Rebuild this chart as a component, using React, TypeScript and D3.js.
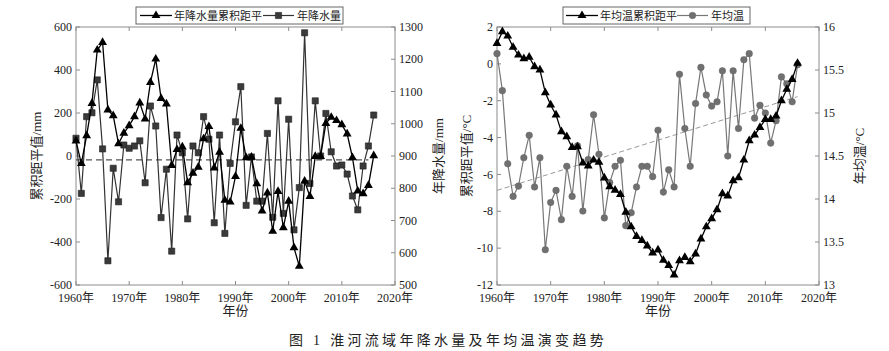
import React from "react";
import * as d3 from "d3";

// years 1960-2016
const years = [
  1960, 1961, 1962, 1963, 1964, 1965, 1966, 1967, 1968, 1969,
  1970, 1971, 1972, 1973, 1974, 1975, 1976, 1977, 1978, 1979,
  1980, 1981, 1982, 1983, 1984, 1985, 1986, 1987, 1988, 1989,
  1990, 1991, 1992, 1993, 1994, 1995, 1996, 1997, 1998, 1999,
  2000, 2001, 2002, 2003, 2004, 2005, 2006, 2007, 2008, 2009,
  2010, 2011, 2012, 2013, 2014, 2015, 2016,
];

// annual precipitation (mm)
const precip = [
  955, 784, 1022, 1034, 1136, 922, 575, 862, 758, 934,
  924, 931, 947, 817, 1055, 993, 709, 859, 605, 965,
  910, 705, 931, 910, 1022, 952, 693, 965, 660, 877,
  1006, 1115, 747, 897, 760, 760, 970, 710, 1071, 722,
  1014, 671, 802, 1282, 815, 1071, 900, 1032, 913, 869,
  872, 844, 776, 733, 869, 931, 1027,
];

// cumulative anomaly of precipitation (mm)
const precipCum = [
  70, -35, 95, 245, 493, 528, 214, 188, 57, 106,
  141, 183, 247, 172, 342, 451, 268, 242, -44, 30,
  42, -124, -80, -52, 80, 137, -55, 18, -206, -214,
  -95, 129, -8, -5, -129, -256, -172, -350, -165, -333,
  -210, -426, -513, -117, -188, -2, -2, 152, 180, 165,
  146, 103, -8, -163, -175, -137, 2,
];
const precipMean = 888;
const precipMeanSpan = [1960, 2015];

// annual mean temperature (°C)
const temp = [
  15.69, 15.26, 14.41, 14.03, 14.15, 14.48, 14.74, 14.14, 14.48, 13.41,
  13.96, 14.1, 13.76, 14.38, 14.03, 14.62, 13.86, 14.46, 14.98, 14.52,
  13.78, 14.19, 14.38, 14.45, 13.69, 13.84, 14.14, 14.38, 14.38, 14.26,
  14.8, 14.08, 14.34, 14.14, 15.45, 14.82, 14.38, 15.11, 15.53, 15.21,
  15.08, 15.13, 15.49, 14.5, 15.49, 14.82, 15.62, 15.69, 14.94, 15.09,
  15.0, 14.65, 14.91, 15.42, 15.34, 15.13, 15.56,
];

// cumulative anomaly of temperature (°C)
const tempCum = [
  1.11, 1.75, 1.51, 0.9, 0.48, 0.28, 0.36, -0.15, -0.33, -1.56,
  -2.23, -2.77, -3.68, -3.95, -4.53, -4.5, -5.38, -5.54, -5.22, -5.34,
  -6.19, -6.66, -6.85, -7.08, -8.05, -8.84, -9.36, -9.58, -9.88, -10.26,
  -10.1, -10.66, -10.94, -11.46, -10.68, -10.5, -10.73, -10.31, -9.5, -8.84,
  -8.4, -7.91, -7.04, -7.17, -6.34, -6.18, -5.22, -4.17, -3.86, -3.45,
  -3.01, -3.01, -2.83, -2.0, -1.38, -0.84, 0.03,
];
// linear trend of temperature, end points
const tempTrendYears = [1960, 2016];
const tempTrendValues = [14.1, 15.19];

const xTicks = [1960, 1970, 1980, 1990, 2000, 2010, 2020];
const precipCumTicks = [-600, -400, -200, 0, 200, 400, 600];
const precipTicks = [500, 600, 700, 800, 900, 1000, 1100, 1200, 1300];
const tempCumTicks = [-12, -10, -8, -6, -4, -2, 0, 2];
const tempTicks = [13, 13.5, 14, 14.5, 15, 15.5, 16];

const serif = "'Liberation Serif', 'Times New Roman', 'Noto Sans CJK SC', serif";
const frameColor = "#8c8c8c";
const textColor = "#222";

const triPath = d3.symbol(d3.symbolTriangle, 34)()!;
const sqPath = d3.symbol(d3.symbolSquare, 38)()!;

type Panel = {
  x: d3.ScaleLinear<number, number>;
  yl: d3.ScaleLinear<number, number>;
  yr: d3.ScaleLinear<number, number>;
  lTicks: number[];
  rTicks: number[];
  lLabel: string;
  rLabel: string;
  lLabelX: number;
  rLabelX: number;
};

function Frame({ x, yl, yr, lTicks, rTicks, lLabel, rLabel, lLabelX, rLabelX }: Panel) {
  const [x0, x1] = x.range();
  const [yB, yT] = yl.range();
  const tl = 4;
  return (
    <g fontFamily={serif} fill={textColor}>
      <rect x={x0} y={yT} width={x1 - x0} height={yB - yT} fill="none" stroke={frameColor} strokeWidth={1} />
      {xTicks.map((t) => (
        <g key={"x" + t}>
          <line x1={x(t)} x2={x(t)} y1={yB} y2={yB - tl} stroke={frameColor} />
          <line x1={x(t)} x2={x(t)} y1={yT} y2={yT + tl} stroke={frameColor} />
          <text x={x(t)} y={301.5} fontSize={12} textAnchor="middle">{t}年</text>
        </g>
      ))}
      {lTicks.map((t) => (
        <g key={"l" + t}>
          <line x1={x0} x2={x0 + tl} y1={yl(t)} y2={yl(t)} stroke={frameColor} />
          <text x={x0 - 4} y={yl(t)} dy="0.35em" fontSize={12} textAnchor="end">{t}</text>
        </g>
      ))}
      {rTicks.map((t) => (
        <g key={"r" + t}>
          <line x1={x1} x2={x1 - tl} y1={yr(t)} y2={yr(t)} stroke={frameColor} />
          <text x={x1 + 4} y={yr(t)} dy="0.35em" fontSize={12} textAnchor="start">{t}</text>
        </g>
      ))}
      <text x={(x0 + x1) / 2} y={315} fontSize={13} textAnchor="middle">年份</text>
      <text transform={`translate(${lLabelX},${(yB + yT) / 2}) rotate(-90)`} fontSize={13} textAnchor="middle" dy="0.35em">{lLabel}</text>
      <text transform={`translate(${rLabelX},${(yB + yT) / 2}) rotate(-90)`} fontSize={13} textAnchor="middle" dy="0.35em">{rLabel}</text>
    </g>
  );
}

export default function App() {
  // left panel: precipitation
  const xL = d3.scaleLinear().domain([1960, 2020]).range([76, 395]);
  const yL = d3.scaleLinear().domain([-600, 600]).range([285, 27]);
  const yLr = d3.scaleLinear().domain([500, 1300]).range([285, 27]);
  // right panel: temperature
  const xR = d3.scaleLinear().domain([1960, 2020]).range([497, 819]);
  const yR = d3.scaleLinear().domain([-12, 2]).range([285, 27]);
  const yRr = d3.scaleLinear().domain([13, 16]).range([285, 27]);

  const pCumLine = d3.line<number>().x((_, i) => xL(years[i])).y((d) => yL(d))(precipCum) || "";
  const pLine = d3.line<number>().x((_, i) => xL(years[i])).y((d) => yLr(d))(precip) || "";
  const tCumLine = d3.line<number>().x((_, i) => xR(years[i])).y((d) => yR(d))(tempCum) || "";
  const tLine = d3.line<number>().x((_, i) => xR(years[i])).y((d) => yRr(d))(temp) || "";

  return (
    <div style={{ position: "absolute", left: 0, top: 0 }}>
      <svg width={889} height={351} style={{ display: "block", background: "#fff" }}>
        <Frame x={xL} yl={yL} yr={yLr} lTicks={precipCumTicks} rTicks={precipTicks}
          lLabel="累积距平值/mm" rLabel="年降水量/mm" lLabelX={36} rLabelX={438} />
        <Frame x={xR} yl={yR} yr={yRr} lTicks={tempCumTicks} rTicks={tempTicks}
          lLabel="累积距平值/°C" rLabel="年均温/°C" lLabelX={466} rLabelX={859} />

        {/* precipitation mean */}
        <line x1={xL(precipMeanSpan[0])} x2={xL(precipMeanSpan[1])} y1={yLr(precipMean)} y2={yLr(precipMean)}
          stroke="#555" strokeWidth={1.1} strokeDasharray="6,4" />
        <path d={pLine} fill="none" stroke="#333" strokeWidth={1.2} />
        {precip.map((d, i) => (
          <path key={"p" + i} d={sqPath} transform={`translate(${xL(years[i])},${yLr(d)})`} fill="#3a3a3a" stroke="#222" strokeWidth={0.6} />
        ))}
        <path d={pCumLine} fill="none" stroke="#000" strokeWidth={1.3} />
        {precipCum.map((d, i) => (
          <path key={"pc" + i} d={triPath} transform={`translate(${xL(years[i])},${yL(d)})`} fill="#000" />
        ))}

        {/* temperature trend */}
        <line x1={xR(tempTrendYears[0])} x2={xR(tempTrendYears[1])} y1={yRr(tempTrendValues[0])} y2={yRr(tempTrendValues[1])}
          stroke="#999" strokeWidth={1} strokeDasharray="5,3" />
        <path d={tLine} fill="none" stroke="#777" strokeWidth={1.2} />
        {temp.map((d, i) => (
          <circle key={"t" + i} cx={xR(years[i])} cy={yRr(d)} r={3.3} fill="#707070" stroke="#666" strokeWidth={0.5} />
        ))}
        <path d={tCumLine} fill="none" stroke="#000" strokeWidth={1.3} />
        {tempCum.map((d, i) => (
          <path key={"tc" + i} d={triPath} transform={`translate(${xR(years[i])},${yR(d)})`} fill="#000" />
        ))}

        {/* legends */}
        <g fontFamily={serif} fontSize={11} fill={textColor}>
          <rect x={136} y={7} width={207} height={17} fill="#fff" stroke="#666" />
          <line x1={140} x2={172} y1={15.5} y2={15.5} stroke="#000" strokeWidth={1.3} />
          <path d={triPath} transform="translate(156,15.5)" fill="#000" />
          <text x={174} y={19.5}>年降水量累积距平</text>
          <line x1={263} x2={294} y1={15.5} y2={15.5} stroke="#333" strokeWidth={1.2} />
          <path d={sqPath} transform="translate(278.5,15.5)" fill="#3a3a3a" stroke="#222" strokeWidth={0.6} />
          <text x={297} y={19.5}>年降水量</text>

          <rect x={563} y={7} width={187} height={17} fill="#fff" stroke="#666" />
          <line x1={566} x2={598} y1={15.5} y2={15.5} stroke="#000" strokeWidth={1.3} />
          <path d={triPath} transform="translate(582,15.5)" fill="#000" />
          <text x={600} y={19.5}>年均温累积距平</text>
          <line x1={677} x2={708} y1={15.5} y2={15.5} stroke="#777" strokeWidth={1.2} />
          <circle cx={692.5} cy={15.5} r={3.3} fill="#707070" stroke="#666" strokeWidth={0.5} />
          <text x={711} y={19.5}>年均温</text>
        </g>

        <text x={448} y={345} fontFamily={serif} fontSize={14} letterSpacing={3.3} textAnchor="middle" fill={textColor} style={{ whiteSpace: "pre" }}>
          图 1 淮河流域年降水量及年均温演变趋势
        </text>
      </svg>
    </div>
  );
}
